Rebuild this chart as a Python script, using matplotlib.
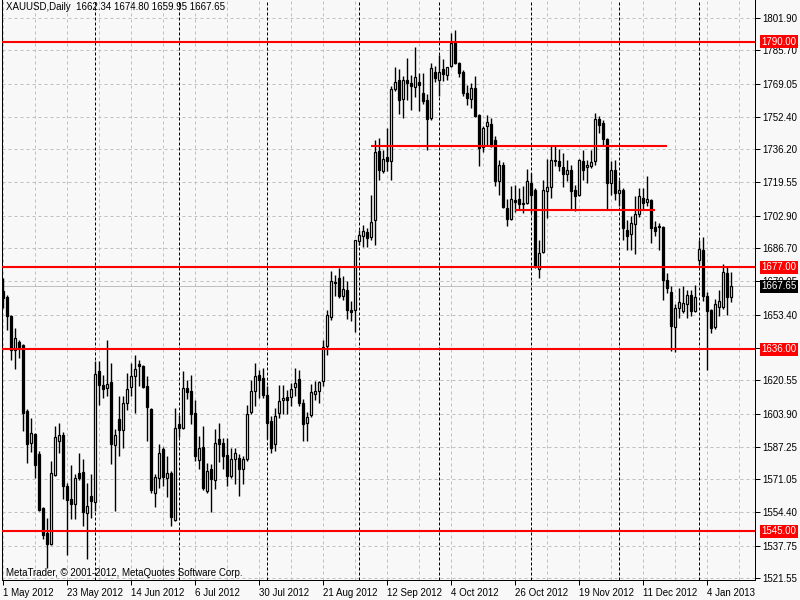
import numpy as np
import pandas as pd
import matplotlib
matplotlib.use("Agg")
import matplotlib.pyplot as plt
import matplotlib.transforms as mtransforms

plt.rcParams["font.family"] = ["Liberation Sans", "DejaVu Sans"]

# Daily XAUUSD candles, 1 May 2012 .. 14 Jan 2013
opens = [1665.1, 1662.1, 1652.9, 1635.6, 1639.7, 1638.4, 1605.4, 1589.2, 1593.4, 1583.4,
         1556.4, 1543.9, 1538.4, 1573.1, 1590.1, 1592.9, 1567.6, 1560.9, 1558.4, 1573.9,
         1574.6, 1554.2, 1562.4, 1559.7, 1625.4, 1618.4, 1616.6, 1619.9, 1588.1, 1601.2,
         1595.6, 1609.2, 1617.2, 1622.6, 1628.7, 1627.9, 1617.9, 1606.4, 1564.2, 1571.7,
         1585.9, 1571.7, 1573.9, 1550.6, 1598.7, 1596.7, 1616.7, 1615.4, 1604.2, 1580.6,
         1587.2, 1565.1, 1576.2, 1570.6, 1590.9, 1588.9, 1582.9, 1572.6, 1581.2, 1581.7,
         1575.9, 1580.9, 1604.6, 1615.1, 1623.4, 1621.7, 1613.4, 1600.1, 1588.4, 1604.2,
         1610.6, 1612.1, 1612.1, 1617.2, 1621.2, 1609.2, 1598.9, 1602.9, 1613.7, 1615.1,
         1620.1, 1637.6, 1652.2, 1669.9, 1671.7, 1662.6, 1665.9, 1655.9, 1655.6, 1690.1,
         1692.6, 1694.7, 1692.2, 1700.6, 1735.4, 1725.1, 1732.1, 1730.1, 1766.2, 1770.9,
         1761.4, 1770.9, 1769.2, 1767.1, 1769.7, 1764.2, 1760.6, 1751.7, 1775.1, 1770.9,
         1776.4, 1773.4, 1777.9, 1789.6, 1779.2, 1775.1, 1764.2, 1761.2, 1766.7, 1753.4,
         1737.1, 1747.6, 1748.7, 1740.9, 1720.1, 1728.4, 1706.7, 1701.2, 1710.6, 1711.4,
         1708.9, 1709.2, 1719.2, 1715.6, 1676.2, 1684.6, 1715.1, 1717.2, 1730.9, 1730.4,
         1727.2, 1723.9, 1725.9, 1715.6, 1713.4, 1730.1, 1727.1, 1727.9, 1730.1, 1751.4,
         1749.2, 1741.2, 1719.2, 1725.6, 1714.2, 1715.6, 1695.9, 1693.9, 1698.9, 1703.9,
         1711.7, 1709.6, 1710.9, 1697.2, 1697.9, 1697.2, 1670.9, 1664.7, 1647.2, 1656.7,
         1655.1, 1658.9, 1663.4, 1655.1, 1680.6, 1685.6, 1662.9, 1655.6, 1647.2, 1657.2,
         1657.2, 1674.2, 1662.34]
highs = [1671.7, 1663.0, 1653.4, 1646.7, 1640.9, 1638.9, 1606.4, 1601.7, 1594.2, 1585.1,
         1557.0, 1551.7, 1580.1, 1597.6, 1598.9, 1594.6, 1568.9, 1577.9, 1573.4, 1583.9,
         1581.2, 1569.2, 1573.4, 1630.1, 1630.1, 1623.4, 1640.9, 1629.2, 1595.9, 1612.6,
         1612.6, 1624.2, 1629.2, 1633.4, 1630.9, 1628.4, 1622.6, 1606.7, 1573.4, 1588.4,
         1587.2, 1582.6, 1575.1, 1606.7, 1602.9, 1625.1, 1620.9, 1623.4, 1610.9, 1592.6,
         1597.6, 1579.2, 1578.4, 1596.2, 1598.9, 1591.7, 1591.7, 1586.7, 1586.7, 1583.4,
         1582.6, 1608.4, 1620.9, 1629.2, 1625.9, 1626.7, 1617.6, 1602.6, 1606.7, 1618.4,
         1618.1, 1615.9, 1619.2, 1626.7, 1625.6, 1611.2, 1604.6, 1618.9, 1620.1, 1620.1,
         1640.9, 1655.9, 1675.1, 1673.4, 1676.7, 1672.6, 1670.1, 1660.1, 1690.9, 1695.6,
         1698.4, 1696.7, 1713.4, 1740.9, 1741.7, 1735.9, 1746.7, 1767.6, 1777.2, 1776.2,
         1772.9, 1781.7, 1773.4, 1787.2, 1774.2, 1774.6, 1763.9, 1779.6, 1777.9, 1783.4,
         1781.2, 1777.6, 1794.6, 1795.9, 1780.1, 1775.9, 1768.4, 1769.2, 1772.9, 1753.8,
         1747.6, 1753.4, 1751.7, 1742.6, 1731.0, 1729.6, 1711.2, 1717.6, 1718.4, 1716.7,
         1717.6, 1726.2, 1724.2, 1716.7, 1690.9, 1720.9, 1731.2, 1737.6, 1737.6, 1736.2,
         1734.2, 1730.9, 1728.4, 1718.4, 1731.2, 1735.6, 1730.9, 1735.9, 1754.2, 1752.6,
         1750.6, 1741.6, 1730.1, 1730.9, 1720.9, 1716.7, 1700.9, 1702.6, 1712.6, 1716.7,
         1716.7, 1722.9, 1711.3, 1700.1, 1699.2, 1697.6, 1674.2, 1667.6, 1658.9, 1666.7,
         1667.6, 1665.9, 1665.9, 1668.4, 1691.0, 1692.2, 1664.6, 1656.0, 1661.2, 1665.9,
         1678.9, 1677.6, 1674.80]
lows = [1656.7, 1645.9, 1630.6, 1626.2, 1631.6, 1595.1, 1578.9, 1584.6, 1571.7, 1554.9,
        1540.9, 1526.7, 1537.9, 1572.6, 1584.2, 1561.2, 1532.9, 1551.2, 1551.2, 1570.6,
        1547.6, 1530.9, 1551.7, 1555.0, 1608.4, 1611.7, 1612.6, 1578.4, 1555.1, 1582.6,
        1586.7, 1605.9, 1612.6, 1604.2, 1617.6, 1616.7, 1590.1, 1564.2, 1557.2, 1566.7,
        1567.6, 1562.1, 1547.6, 1550.0, 1592.0, 1595.9, 1611.2, 1598.4, 1580.1, 1575.9,
        1565.6, 1564.2, 1554.6, 1565.9, 1579.6, 1575.9, 1567.6, 1571.7, 1568.4, 1562.6,
        1568.4, 1580.1, 1603.4, 1607.6, 1611.7, 1611.7, 1591.2, 1584.2, 1585.1, 1601.7,
        1603.9, 1603.4, 1607.6, 1612.6, 1607.9, 1590.1, 1590.1, 1602.2, 1610.9, 1609.2,
        1617.9, 1633.4, 1650.9, 1662.6, 1661.7, 1660.9, 1651.2, 1650.1, 1644.6, 1688.4,
        1687.2, 1687.2, 1690.9, 1688.4, 1720.6, 1724.2, 1725.1, 1720.6, 1765.1, 1753.9,
        1751.7, 1760.6, 1755.6, 1762.2, 1755.1, 1758.7, 1735.6, 1750.9, 1770.1, 1762.9,
        1770.6, 1770.9, 1777.2, 1778.8, 1772.6, 1762.9, 1758.4, 1756.7, 1752.2, 1727.9,
        1734.6, 1737.6, 1737.2, 1717.6, 1713.4, 1706.7, 1697.6, 1700.9, 1704.6, 1705.9,
        1704.2, 1708.9, 1704.2, 1676.7, 1671.7, 1684.2, 1701.7, 1711.7, 1727.6, 1725.1,
        1717.2, 1720.1, 1705.9, 1705.1, 1712.9, 1720.9, 1719.2, 1726.7, 1728.4, 1744.2,
        1737.6, 1705.9, 1713.4, 1710.9, 1708.0, 1690.9, 1685.9, 1685.9, 1683.9, 1702.2,
        1705.9, 1707.6, 1689.2, 1692.6, 1685.9, 1660.9, 1664.2, 1635.1, 1634.6, 1651.7,
        1654.2, 1651.7, 1652.6, 1654.8, 1678.0, 1660.0, 1625.6, 1644.2, 1646.2, 1652.6,
        1656.2, 1653.4, 1659.95]
closes = [1661.7, 1652.6, 1635.6, 1641.7, 1637.2, 1604.2, 1588.4, 1593.9, 1578.1, 1555.6,
          1543.1, 1538.4, 1573.9, 1592.2, 1592.9, 1567.6, 1560.6, 1558.4, 1571.7, 1571.4,
          1554.6, 1557.6, 1560.1, 1623.7, 1618.1, 1616.4, 1618.9, 1588.7, 1592.9, 1595.6,
          1609.2, 1616.2, 1622.9, 1626.2, 1627.9, 1617.2, 1607.2, 1565.6, 1572.2, 1583.9,
          1572.2, 1573.9, 1552.2, 1596.7, 1596.7, 1616.7, 1614.6, 1603.9, 1582.6, 1586.7,
          1566.7, 1575.1, 1570.9, 1588.9, 1588.4, 1582.6, 1572.6, 1580.9, 1583.9, 1576.2,
          1580.9, 1603.9, 1615.4, 1622.6, 1620.9, 1613.4, 1598.9, 1586.7, 1602.6, 1610.4,
          1611.7, 1610.9, 1616.2, 1619.2, 1609.2, 1598.4, 1602.2, 1614.6, 1615.1, 1619.6,
          1637.1, 1653.4, 1670.1, 1669.4, 1662.9, 1666.2, 1655.6, 1654.6, 1690.6, 1693.4,
          1695.4, 1691.7, 1699.6, 1734.7, 1725.9, 1731.2, 1730.1, 1766.2, 1769.7, 1760.6,
          1770.9, 1769.2, 1767.6, 1772.2, 1768.1, 1760.1, 1751.2, 1776.7, 1771.7, 1775.1,
          1773.9, 1777.2, 1789.6, 1779.2, 1774.2, 1764.2, 1761.7, 1766.7, 1752.6, 1736.7,
          1746.7, 1749.6, 1737.6, 1720.1, 1728.4, 1707.2, 1701.2, 1711.4, 1709.6, 1708.9,
          1709.2, 1720.4, 1713.4, 1677.6, 1684.2, 1715.6, 1717.2, 1730.9, 1730.1, 1727.6,
          1723.9, 1725.9, 1715.1, 1712.9, 1730.9, 1725.9, 1728.4, 1729.6, 1751.4, 1748.1,
          1741.2, 1719.2, 1725.6, 1714.2, 1715.9, 1696.7, 1692.9, 1699.2, 1703.9, 1712.6,
          1709.2, 1711.2, 1696.7, 1695.1, 1697.1, 1670.6, 1666.7, 1647.6, 1656.7, 1659.6,
          1659.2, 1663.4, 1655.1, 1662.2, 1686.2, 1662.6, 1655.1, 1646.7, 1658.9, 1660.1,
          1674.6, 1662.2, 1667.65]

# support / resistance lines drawn on the chart
full_levels = [1790.00, 1677.00, 1636.00, 1545.00]
segment_levels = [(1738.0, 92, 166), (1705.8, 128, 163)]  # price, first bar, last bar
last_price = 1667.65

price_ticks = [1801.90, 1785.70, 1769.05, 1752.40, 1736.20, 1719.55, 1702.90, 1686.70,
               1670.05, 1653.40, 1636.75, 1620.55, 1603.90, 1587.25, 1571.05, 1554.40,
               1537.75, 1521.55]

# trading calendar (weekdays, Christmas and New Year missing)
dates = pd.bdate_range("2012-05-01", periods=len(opens), freq="C",
                       holidays=["2012-12-25", "2013-01-01"])

opens = np.array(opens)
highs = np.array(highs)
lows = np.array(lows)
closes = np.array(closes)
idx = np.arange(len(opens))

bg = "#f8f8f8"
fs = 7
fig = plt.figure(figsize=(8, 6), dpi=100, facecolor=bg)
ax = fig.add_axes([2 / 800, 20 / 600, 753 / 800, 580 / 600], facecolor=bg)
ax.set_xlim(-0.33, 187.9)
ax.set_ylim(1520.55, 1810.9)

px = 0.72  # one pixel in points

# grid
for p in price_ticks:
    ax.axhline(p, color="#c0c0c0", lw=px, dashes=(3, 3), zorder=0.5)
for g in range(0, 188, 8):
    ax.axvline(g, color="#c0c0c0", lw=px, dashes=(3, 3), zorder=0.5)

# month separators
months = dates.month
sep = [i for i in range(1, len(dates)) if months[i] != months[i - 1]]
for s in sep:
    ax.axvline(s, color="black", lw=px, dashes=(3, 2), zorder=0.6)

# bid line
ax.axhline(last_price, color="#c0c0c0", lw=px, zorder=0.7)

# candles
ax.vlines(idx, lows, highs, color="black", lw=1.0, zorder=2)
up = closes >= opens
bottoms = np.minimum(opens, closes)
heights = np.maximum(np.abs(closes - opens), 0.01)
ax.bar(idx[up], heights[up], bottom=bottoms[up], width=0.55, color="white",
       edgecolor="black", linewidth=0.9, zorder=3)
ax.bar(idx[~up], heights[~up], bottom=bottoms[~up], width=0.55, color="black",
       edgecolor="black", linewidth=0.9, zorder=3)

# red lines
for lv in full_levels:
    ax.axhline(lv, color="red", lw=1.5, zorder=4)
for lv, a, b in segment_levels:
    ax.hlines(lv, a, b, color="red", lw=1.5, zorder=4)

# axes styling
for side in ["left", "bottom", "right"]:
    ax.spines[side].set_color("black")
    ax.spines[side].set_linewidth(px)
ax.spines["top"].set_visible(False)

ax.yaxis.tick_right()
ax.set_yticks(price_ticks)
ax.set_yticklabels([f"{p:.2f}" for p in price_ticks])
ax.tick_params(axis="y", length=3.5, width=px, pad=2, labelsize=fs, colors="black")

xt = list(range(0, len(dates), 16))
ax.set_xticks(xt)
ax.set_xticklabels([f"{dates[i].day} {dates[i].strftime('%b %Y')}" for i in xt])
ax.tick_params(axis="x", length=3.5, width=px, pad=2, labelsize=fs, colors="black")
for lbl in ax.get_xticklabels():
    lbl.set_ha("left")

# price label boxes on the right axis
trans = mtransforms.blended_transform_factory(ax.transAxes, ax.transData)
for lv in full_levels:
    ax.text(1.009, lv, f"{lv:.2f}", transform=trans, fontsize=fs, color="white",
            va="center", ha="left", clip_on=False, zorder=10,
            bbox=dict(boxstyle="square,pad=0.15", fc="red", ec="none"))
ax.text(1.009, last_price, f"{last_price:.2f}", transform=trans, fontsize=fs,
        color="white", va="center", ha="left", clip_on=False, zorder=10,
        bbox=dict(boxstyle="square,pad=0.15", fc="black", ec="none"))

# captions
ax.text(0.005, 0.988, "XAUUSD,Daily  1662.34 1674.80 1659.95 1667.65",
        transform=ax.transAxes, fontsize=fs, va="center", ha="left", zorder=10)
ax.text(0.005, 0.004, "MetaTrader, \u00a9 2001-2012, MetaQuotes Software Corp.",
        transform=ax.transAxes, fontsize=fs, va="bottom", ha="left", zorder=10)

fig.savefig("out.png", dpi=100, facecolor=bg)
